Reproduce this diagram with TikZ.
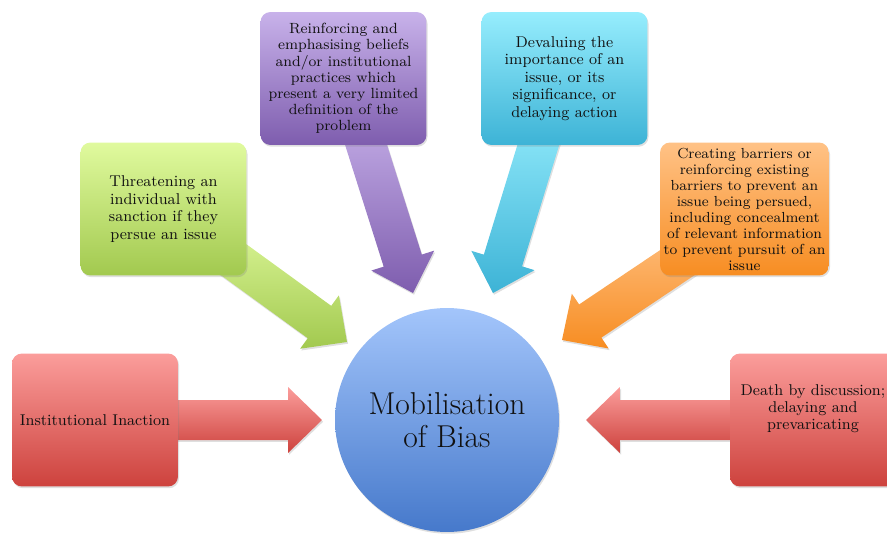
\documentclass[tikz,border=0pt]{standalone}
\usepackage{tikz}
\usetikzlibrary{calc,shadows}
\definecolor{redtop}{HTML}{FB9D9B}
\definecolor{redbot}{HTML}{CD423D}
\definecolor{greentop}{HTML}{E0FA9E}
\definecolor{greenbot}{HTML}{A2C94F}
\definecolor{purpletop}{HTML}{C8B2EA}
\definecolor{purplebot}{HTML}{7E5DAE}
\definecolor{cyantop}{HTML}{96EDFD}
\definecolor{cyanbot}{HTML}{3DB3D6}
\definecolor{orangetop}{HTML}{FFC286}
\definecolor{orangebot}{HTML}{F78D22}
\definecolor{bluetop}{HTML}{A3C5FB}
\definecolor{bluebot}{HTML}{4679CB}
\definecolor{inktext}{HTML}{111111}
\tikzset{
    tint/.style={top color=#1top, bottom color=#1bot, draw=none},
    softshadow/.style={drop shadow={opacity=0.25, shadow xshift=0.6pt, shadow yshift=-1pt}},
    issuebox/.style={rectangle, rounded corners=0.2cm, minimum width=3.32cm, minimum height=2.66cm,
        align=center, inner sep=2pt, text=inktext, softshadow, font=\fontsize{8.9}{9.9}\selectfont},
    hub/.style={circle, minimum size=4.48cm, tint=blue, softshadow, align=center, text=inktext,
        font=\fontsize{18}{18.5}\selectfont}}
% block arrow from #1 to #2, coloured #3
\newcommand{\blockarrow}[3]{%
  \coordinate (#1h) at ($(#2)!0.68cm!(#1)$);
  \path[tint=#3, softshadow] ($(#1)!0.4cm!90:(#2)$) -- ($(#1h)!0.4cm!90:(#2)$) -- ($(#1h)!0.66cm!90:(#2)$)
    -- (#2) -- ($(#1h)!0.66cm!-90:(#2)$) -- ($(#1h)!0.4cm!-90:(#2)$) -- ($(#1)!0.4cm!-90:(#2)$) -- cycle;}

\begin{document}
\begin{tikzpicture}[x=0.02cm,y=-0.02cm]
\clip (0,0) rectangle (887,538);

\coordinate (ls) at (150,420);
\coordinate (lt) at (322,420);
\coordinate (rs) at (760,420);
\coordinate (rt) at (586,420);
\coordinate (gs) at (190,228);
\coordinate (gt) at (347,342);
\coordinate (ps) at (355,110);
\coordinate (pt) at (413,293);
\coordinate (cs) at (549,110);
\coordinate (ct) at (493,293);
\coordinate (os) at (720,234);
\coordinate (ot) at (562,340);

\blockarrow{ls}{lt}{red}
\blockarrow{rs}{rt}{red}
\blockarrow{gs}{gt}{green}
\blockarrow{ps}{pt}{purple}
\blockarrow{cs}{ct}{cyan}
\blockarrow{os}{ot}{orange}

\node[hub] (bias) at (447,420) {Mobilisation\\of Bias};

\node[issuebox, tint=red] (inaction) at (95,420) {Institutional Inaction};
\node[issuebox, tint=red, text depth=0.52cm] (death) at (813,420) {Death by discussion;\\delaying and\\prevaricating};
\node[issuebox, tint=green] (threat) at (163.5,209) {Threatening an\\individual with\\sanction if they\\persue an issue};
\node[issuebox, tint=purple, font=\fontsize{8.4}{9.2}\selectfont] (beliefs) at (343.5,78.5) {Reinforcing and\\emphasising beliefs\\and/or institutional\\practices which\\present a very limited\\definition of the\\problem};
\node[issuebox, tint=cyan] (devalue) at (564.5,78.5) {Devaluing the\\importance of an\\issue, or its\\significance, or\\delaying action};
\node[issuebox, tint=orange, font=\fontsize{8.3}{9.1}\selectfont] (barriers) at (744.5,209) {Creating barriers or\\reinforcing existing\\barriers to prevent an\\issue being persued,\\including concealment\\of relevant information\\to prevent pursuit of an\\issue};
\end{tikzpicture}
\end{document}
